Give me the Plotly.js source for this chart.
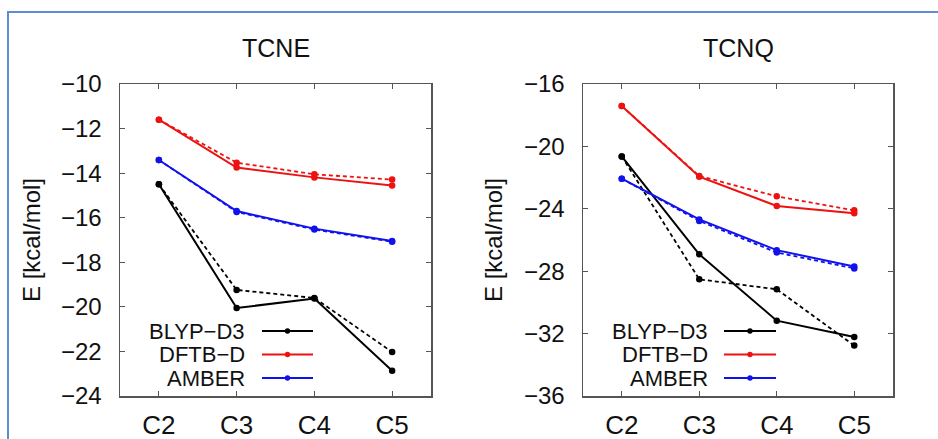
<!DOCTYPE html>
<html>
<head>
<meta charset="utf-8">
<script src="https://cdn.plot.ly/plotly-3.0.1.min.js"></script>
<style>html,body{margin:0;padding:0;background:#fff;}#chart{width:938px;height:439px;}</style>
</head>
<body>
<div id="chart"></div>
<script>
// ---- data ----
const categories = ['C2', 'C3', 'C4', 'C5'];
const seriesNames = ['BLYP-D3', 'DFTB-D', 'AMBER'];

// TCNE (solid / dashed)
const tcneBlyp      = [-14.5, -20.05, -19.63, -22.87];
const tcneBlypDash  = [-14.5, -19.24, -19.60, -22.03];
const tcneDftb      = [-11.6, -13.75, -14.19, -14.55];
const tcneDftbDash  = [-11.6, -13.53, -14.05, -14.29];
const tcneAmber     = [-13.41, -15.70, -16.49, -17.04];
const tcneAmberDash = [-13.41, -15.74, -16.53, -17.08];

// TCNQ (solid / dashed)
const tcnqBlyp      = [-20.64, -26.92, -31.17, -32.22];
const tcnqBlypDash  = [-20.64, -28.52, -29.16, -32.77];
const tcnqDftb      = [-17.41, -21.94, -23.82, -24.29];
const tcnqDftbDash  = [-17.41, -21.90, -23.20, -24.10];
const tcnqAmber     = [-22.07, -24.68, -26.65, -27.70];
const tcnqAmberDash = [-22.07, -24.78, -26.80, -27.82];

const tcneTicks = [-10, -12, -14, -16, -18, -20, -22, -24];
const tcnqTicks = [-16, -20, -24, -28, -32, -36];
const panelTitles = ['TCNE', 'TCNQ'];
const yTitle = 'E [kcal/mol]';

// ---- styling ----
const colors = ['#000000', '#ee1111', '#1111ee'];
const FONT = 'Liberation Sans, Arial, Helvetica, sans-serif';
const W = 938, H = 439;
const px = v => v / W;
const py = v => 1 - v / H;

function mk(y, ci, dashed, xa, ya) {
  return {
    x: categories, y: y, xaxis: xa, yaxis: ya, type: 'scatter', mode: 'lines+markers',
    showlegend: false, hoverinfo: 'skip',
    line: {color: colors[ci], width: dashed ? 1.8 : 2, dash: dashed ? '4px,3px' : 'solid'},
    marker: {color: colors[ci], size: 6.5}
  };
}

const data = [
  mk(tcneBlypDash, 0, true, 'x', 'y'), mk(tcneBlyp, 0, false, 'x', 'y'),
  mk(tcneDftbDash, 1, true, 'x', 'y'), mk(tcneDftb, 1, false, 'x', 'y'),
  mk(tcneAmberDash, 2, true, 'x', 'y'), mk(tcneAmber, 2, false, 'x', 'y'),
  mk(tcnqBlypDash, 0, true, 'x2', 'y2'), mk(tcnqBlyp, 0, false, 'x2', 'y2'),
  mk(tcnqDftbDash, 1, true, 'x2', 'y2'), mk(tcnqDftb, 1, false, 'x2', 'y2'),
  mk(tcnqAmberDash, 2, true, 'x2', 'y2'), mk(tcnqAmber, 2, false, 'x2', 'y2')
];

const frameColor = '#555555';
function xaxis(dom, anchor) {
  return {
    domain: dom, anchor: anchor, type: 'category', range: [-0.5, 3.5],
    showgrid: false, zeroline: false, showline: true, linecolor: frameColor, linewidth: 1.5,
    mirror: 'ticks', ticks: 'inside', ticklen: 5, tickwidth: 1.2, tickcolor: frameColor,
    ticklabelstandoff: 5,
    tickfont: {family: FONT, size: 26, color: '#111'}
  };
}
function yaxis(dom, anchor, ticks) {
  return {
    domain: dom, anchor: anchor, range: [ticks[ticks.length - 1], ticks[0]],
    tickvals: ticks, showgrid: false, zeroline: false, showline: true, linecolor: frameColor, linewidth: 1.5,
    mirror: 'ticks', ticks: 'inside', ticklen: 5, tickwidth: 1.2, tickcolor: frameColor,
    ticklabelstandoff: 12,
    tickfont: {family: FONT, size: 24, color: '#111'}
  };
}

const yDom = [py(396), py(84)];
const panels = [
  {x0: 120, x1: 431, titleX: 275.5, yTitleX: 31, legTextX: 246, legLine: [262, 313]},
  {x0: 583, x1: 893, titleX: 738, yTitleX: 493, legTextX: 709, legLine: [724, 776]}
];
const legRows = [331, 354.5, 378];

const annotations = [];
const shapes = [];
panels.forEach((p, i) => {
  annotations.push({xref: 'paper', yref: 'paper', x: px(p.titleX), y: py(48), text: panelTitles[i],
    showarrow: false, xanchor: 'center', yanchor: 'middle', font: {family: FONT, size: 25, color: '#111'}});
  annotations.push({xref: 'paper', yref: 'paper', x: px(p.yTitleX), y: py(240), text: yTitle, textangle: -90,
    showarrow: false, xanchor: 'center', yanchor: 'middle', font: {family: FONT, size: 24, color: '#111'}});
  seriesNames.forEach((n, k) => {
    annotations.push({xref: 'paper', yref: 'paper', x: px(p.legTextX), y: py(legRows[k]), text: n.replace('-', '\u2212'),
      showarrow: false, xanchor: 'right', yanchor: 'middle', borderpad: 0,
      font: {family: FONT, size: 22, color: '#111'}});
    shapes.push({type: 'line', xref: 'paper', yref: 'paper', x0: px(p.legLine[0]), x1: px(p.legLine[1]),
      y0: py(legRows[k]), y1: py(legRows[k]), line: {color: colors[k], width: 2}});
    const cx = (p.legLine[0] + p.legLine[1]) / 2;
    shapes.push({type: 'circle', xref: 'paper', yref: 'paper', x0: px(cx - 2.7), x1: px(cx + 2.7),
      y0: py(legRows[k] - 2.7), y1: py(legRows[k] + 2.7), fillcolor: colors[k], line: {color: colors[k], width: 0}});
  });
});
// outer blue frame
shapes.push({type: 'rect', xref: 'paper', yref: 'paper', x0: px(8), x1: px(960), y0: py(12), y1: py(460),
  line: {color: '#5b8fd2', width: 2}, fillcolor: 'rgba(0,0,0,0)', layer: 'below'});

const layout = {
  width: W, height: H, margin: {l: 0, r: 0, t: 0, b: 0},
  paper_bgcolor: '#ffffff', plot_bgcolor: '#ffffff', showlegend: false,
  font: {family: FONT, color: '#111'},
  xaxis: xaxis([px(120), px(431)], 'y'),
  yaxis: yaxis(yDom, 'x', tcneTicks),
  xaxis2: xaxis([px(583), px(893)], 'y2'),
  yaxis2: yaxis(yDom, 'x2', tcnqTicks),
  annotations: annotations, shapes: shapes
};

Plotly.newPlot('chart', data, layout, {staticPlot: true, displayModeBar: false});
</script>
</body>
</html>
